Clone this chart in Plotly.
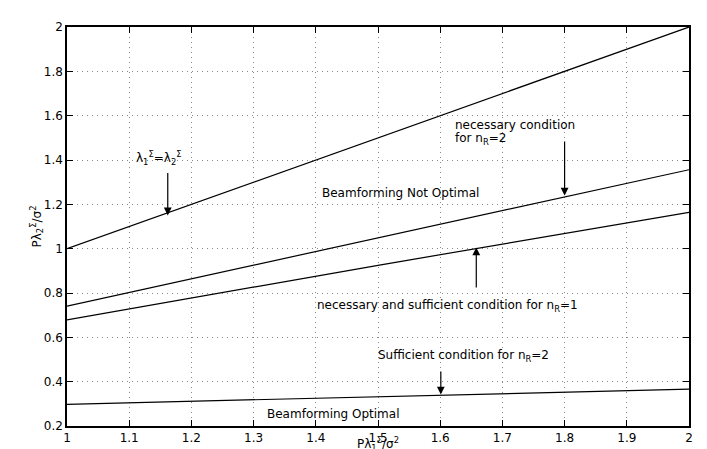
import plotly.graph_objects as go

# x values (P*lambda1/sigma^2)
x_vals = [1.0, 1.5, 2.0]
# curves
equal_eig = [1.0, 1.5, 2.0]          # lambda1 = lambda2
nec_nr2 = [0.741, 1.05, 1.356]       # necessary condition for nR=2
nec_suf_nr1 = [0.679, 0.925, 1.164]  # necessary and sufficient condition for nR=1
suf_nr2 = [0.298, 0.332, 0.366]      # sufficient condition for nR=2

x_ticks = [1, 1.1, 1.2, 1.3, 1.4, 1.5, 1.6, 1.7, 1.8, 1.9, 2]
x_tick_text = ["1", "1.1", "1.2", "1.3", "1.4", "1.5", "1.6", "1.7", "1.8", "1.9", "2"]
y_ticks = [0.2, 0.4, 0.6, 0.8, 1.0, 1.2, 1.4, 1.6, 1.8, 2.0]
y_tick_text = ["0.2", "0.4", "0.6", "0.8", "1", "1.2", "1.4", "1.6", "1.8", "2"]

FONT = "DejaVu Sans"
fig = go.Figure()
for ys in [equal_eig, nec_nr2, nec_suf_nr1, suf_nr2]:
    fig.add_trace(go.Scatter(x=x_vals, y=ys, mode="lines",
                             line=dict(color="black", width=1.2),
                             showlegend=False, hoverinfo="skip"))

axis_common = dict(
    showline=True, linecolor="black", linewidth=1.5, mirror="ticks",
    ticks="inside", ticklen=6, tickcolor="black", tickwidth=1,
    showgrid=True, gridcolor="#8a8a8a", griddash="1px,4px", gridwidth=1,
    zeroline=False, tickfont=dict(family=FONT, size=12, color="black"),
)
fig.update_xaxes(range=[1, 2], tickvals=x_ticks, ticktext=x_tick_text, **axis_common)
fig.update_yaxes(range=[0.2, 2], tickvals=y_ticks, ticktext=y_tick_text, **axis_common)

tf = dict(family=FONT, size=12, color="black")
texts = [
    (1.148, 1.41, "λ<sub>1</sub><sup>Σ</sup>=λ<sub>2</sub><sup>Σ</sup>", "center"),
    (1.536, 1.252, "Beamforming Not Optimal", "center"),
    (1.62, 1.556, "necessary condition", "left"),
    (1.62, 1.496, "for n<sub>R</sub>=2", "left"),
    (1.611, 0.743, "necessary and sufficient condition for n<sub>R</sub>=1", "center"),
    (1.637, 0.517, "Sufficient condition for n<sub>R</sub>=2", "center"),
    (1.428, 0.252, "Beamforming Optimal", "center"),
]
for x, y, t, anc in texts:
    fig.add_annotation(x=x, y=y, text=t, showarrow=False, font=tf,
                       xanchor=anc, yanchor="middle")

arrows = [
    (1.162, 1.15, 1.162, 1.348),
    (1.80, 1.24, 1.80, 1.49),
    (1.658, 1.005, 1.658, 0.818),
    (1.601, 0.342, 1.601, 0.453),
]
for x, y, ax, ay in arrows:
    fig.add_annotation(x=x, y=y, ax=ax, ay=ay, xref="x", yref="y",
                       axref="x", ayref="y", text="", showarrow=True,
                       arrowhead=2, arrowsize=1.3, arrowwidth=1.2,
                       arrowcolor="black", standoff=0, startstandoff=0)

# axis titles
fig.add_annotation(x=0.5, y=0, xref="paper", yref="paper", yshift=-18,
                   text="Pλ<sub>1</sub><sup>Σ</sup>/σ<sup>2</sup>", showarrow=False,
                   font=tf, xanchor="center", yanchor="middle")
fig.add_annotation(x=0, y=0.5, xref="paper", yref="paper", xshift=-31,
                   text="Pλ<sub>2</sub><sup>Σ</sup>/σ<sup>2</sup>", showarrow=False,
                   font=tf, textangle=-90, xanchor="center", yanchor="middle")

fig.update_layout(
    width=707, height=449,
    margin=dict(l=59, r=26, t=12, b=31, pad=0),
    plot_bgcolor="white", paper_bgcolor="white",
    font=tf,
)
fig.write_html("out.html")
